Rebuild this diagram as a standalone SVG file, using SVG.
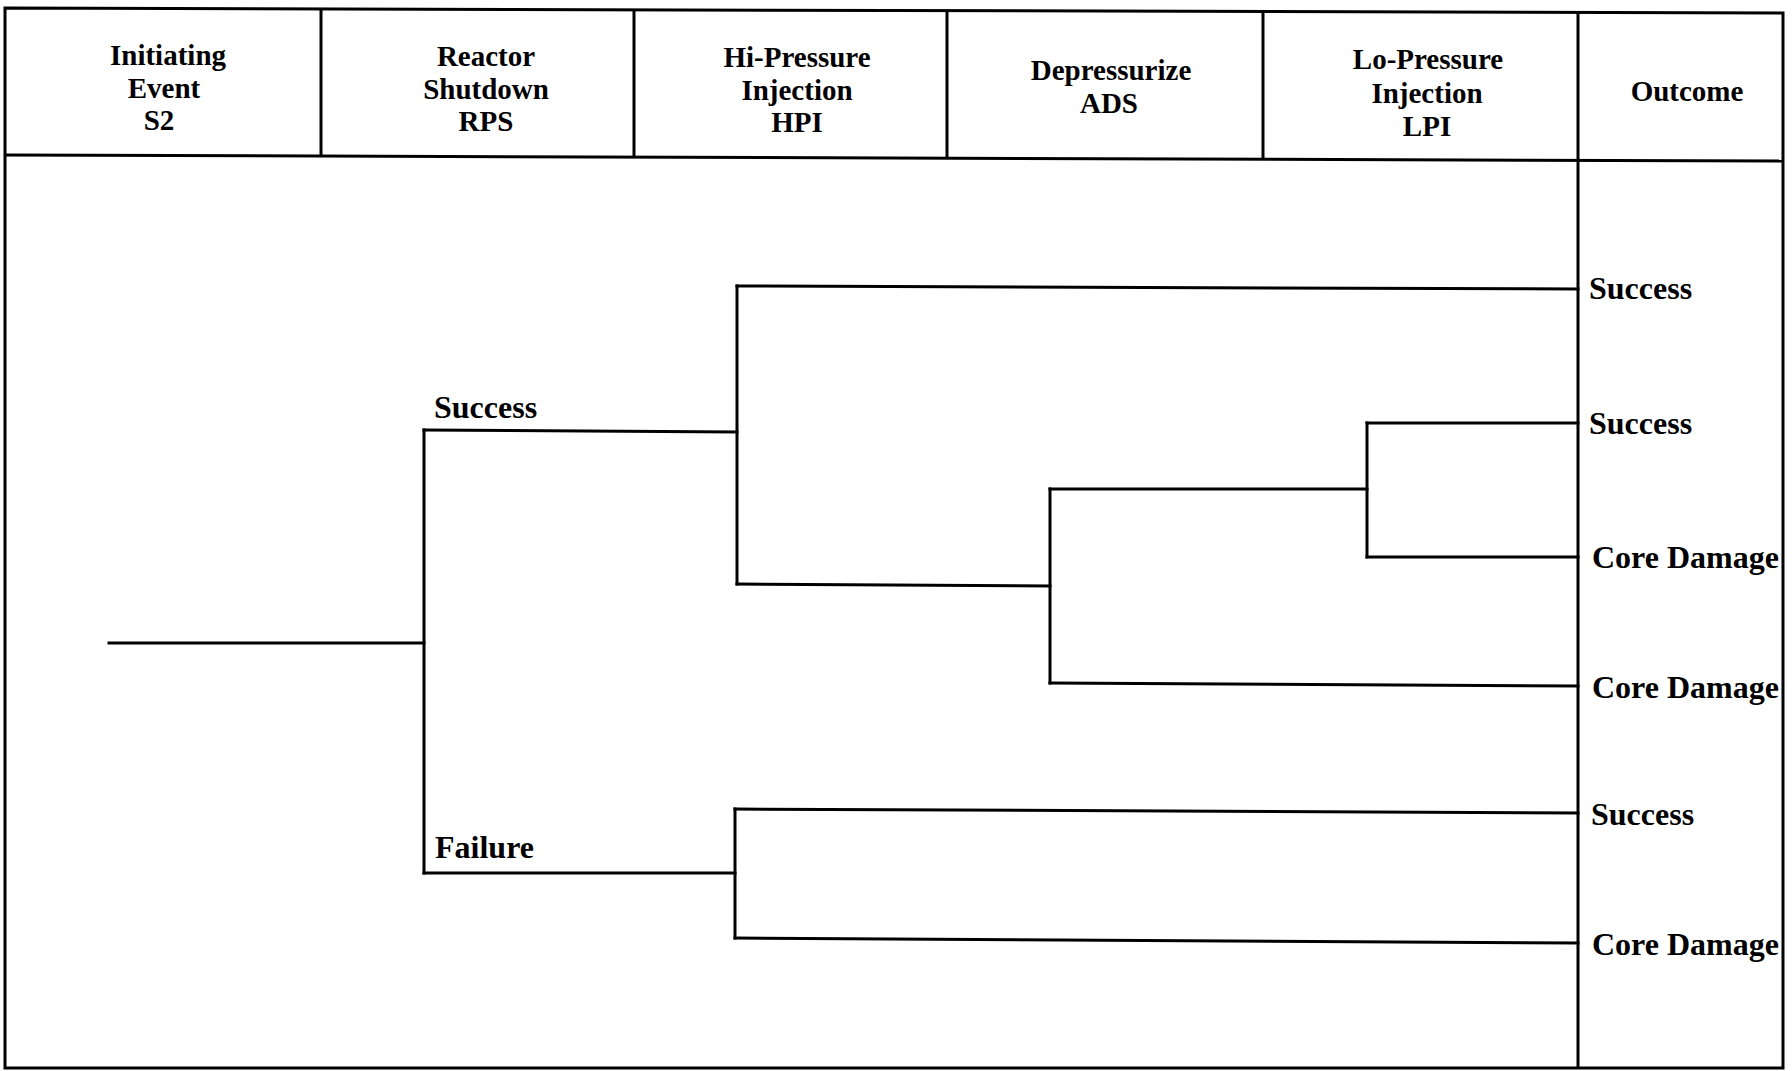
<svg xmlns="http://www.w3.org/2000/svg" width="1792" height="1071" viewBox="0 0 1792 1071">
<style>
.frame{fill:none;stroke:#000;stroke-width:3}
.c{fill:none;stroke:#000;stroke-width:3;stroke-linecap:square}
text{font-family:"Liberation Serif","Times New Roman",serif;font-weight:bold;font-size:32px;fill:#000}
.h{text-anchor:middle;font-size:29px}
</style>
<rect width="1792" height="1071" fill="#fff"/>
<g id="frame">
<path class="frame" d="M5,8 L1783,13 L1783,1068 L5,1068 Z"/>
<path class="frame" d="M5,155 L1783,161"/>
<path class="frame" d="M321,8 V156 M634,9 V157 M947,10 V158 M1263,11 V159 M1578,12 V1068"/>
</g>
<g id="header">
<g id="h-initiating"><text class="h" x="168" y="65">Initiating</text><text class="h" x="164" y="98">Event</text><text class="h" x="159" y="130">S2</text></g>
<g id="h-rps"><text class="h" x="486" y="66">Reactor</text><text class="h" x="486" y="99">Shutdown</text><text class="h" x="486" y="131">RPS</text></g>
<g id="h-hpi"><text class="h" x="797" y="67">Hi-Pressure</text><text class="h" x="797" y="100">Injection</text><text class="h" x="797" y="132">HPI</text></g>
<g id="h-ads"><text class="h" x="1111" y="80">Depressurize</text><text class="h" x="1109" y="113">ADS</text></g>
<g id="h-lpi"><text class="h" x="1428" y="69">Lo-Pressure</text><text class="h" x="1427" y="103">Injection</text><text class="h" x="1427" y="136">LPI</text></g>
<g id="h-outcome"><text class="h" x="1687" y="101">Outcome</text></g>
</g>
<g id="connectors">
<path class="c" d="M109,643 H424"/>
<path class="c" d="M424,430 V873"/>
<path class="c" d="M424,430 L737,432"/>
<path class="c" d="M424,873 H735"/>
<path class="c" d="M737,286 V584"/>
<path class="c" d="M737,286 L1578,289"/>
<path class="c" d="M737,584 L1050,586"/>
<path class="c" d="M1050,489 V683"/>
<path class="c" d="M1050,489 H1367"/>
<path class="c" d="M1050,683 L1578,686"/>
<path class="c" d="M1367,423 V557"/>
<path class="c" d="M1367,423 H1578"/>
<path class="c" d="M1367,557 H1578"/>
<path class="c" d="M735,809 V938"/>
<path class="c" d="M735,809 L1578,813"/>
<path class="c" d="M735,938 L1578,943"/>
</g>
<g id="branch-labels">
<text id="l-rps-success" x="434" y="418">Success</text>
<text id="l-rps-failure" x="435" y="858">Failure</text>
</g>
<g id="outcomes">
<text id="o1" x="1589" y="299">Success</text>
<text id="o2" x="1589" y="434">Success</text>
<text id="o3" x="1592" y="568">Core Damage</text>
<text id="o4" x="1592" y="698">Core Damage</text>
<text id="o5" x="1591" y="825">Success</text>
<text id="o6" x="1592" y="955">Core Damage</text>
</g>
</svg>
